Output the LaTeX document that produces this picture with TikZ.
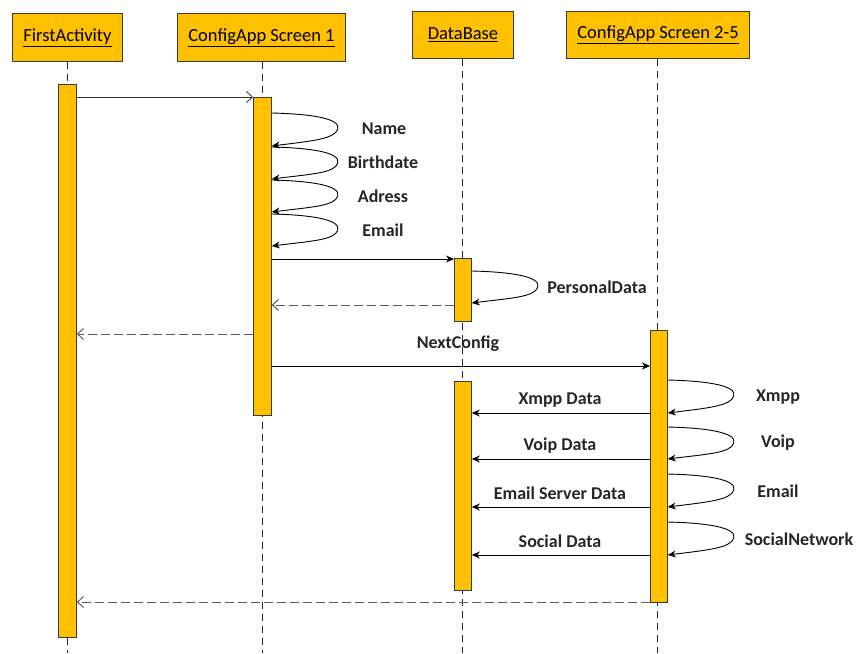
\documentclass[tikz,border=0pt]{standalone}
\usepackage{fontspec}
\setmainfont{Carlito}
\usetikzlibrary{arrows.meta}
\definecolor{actfill}{HTML}{FFC000}
\definecolor{actline}{HTML}{3A3A3A}
\definecolor{retline}{HTML}{5A5A5A}

% self message: from bar #1 at level #2 back to the same bar at level #3
\newcommand\selfcall[3]{%
  \draw[call] (#1.east |- #2) .. controls +(42,1) and +(3,-10) .. ++(66,16)
    .. controls +(-3,10) and +(40,-5) .. (#1.east |- #3);}

\begin{document}
\begin{tikzpicture}[x=1pt,y=-1pt,
  head/.style={draw=actline, fill=actfill, line width=1pt, inner sep=0pt,
    anchor=north west, minimum height=48pt, font=\fontsize{18.5}{20}\selectfont},
  actbar/.style={draw=actline, fill=actfill, line width=0.8pt, inner sep=0pt,
    anchor=north west, minimum width=17pt},
  lifeline/.style={draw=black!85, line width=0.8pt, dash pattern=on 7pt off 5pt},
  call/.style={draw=black, line width=0.9pt, -{Stealth[length=8pt,width=7pt]}},
  reply/.style={draw=retline, line width=1pt, dash pattern=on 9pt off 4pt,
    -{Straight Barb[length=6pt,width=11pt]}},
  enter/.style={draw=black!80, line width=0.8pt, -{Straight Barb[length=6pt,width=11pt]}},
  msg/.style={font=\bfseries\fontsize{18}{20}\selectfont, inner sep=0pt, text=black!85}]

\useasboundingbox (0,0) rectangle (856,653);

% participants
\node[head, minimum width=110pt] (fa) at (12,13) {\underline{FirstActivity}};
\node[head, minimum width=168pt] (cs1) at (177,13) {\underline{ConfigApp Screen 1}};
\node[head, minimum width=101pt, minimum height=47pt] (db) at (412,11) {\underline{DataBase}};
\node[head, minimum width=183pt, minimum height=47pt] (cs2) at (566,11) {\underline{ConfigApp Screen 2-5}};

% lifelines
\draw[lifeline] (fa.south -| 67,0) -- (67,653);
\draw[lifeline] (cs1.south -| 262,0) -- (262,653);
\draw[lifeline] (db.south -| 462,0) -- (462,653);
\draw[lifeline] (cs2.south -| 657,0) -- (657,653);

% activation bars
\node[actbar, minimum width=18pt, minimum height=553pt] (faA) at (58,84) {};
\node[actbar, minimum width=18pt, minimum height=318pt] (cs1A) at (253,97) {};
\node[actbar, minimum height=63pt] (dbA) at (454,258) {};
\node[actbar, minimum height=209pt] (dbB) at (454,381) {};
\node[actbar, minimum height=272pt] (cs2A) at (650,330) {};

% message levels
\coordinate (y1) at (0,97);
\coordinate (yName) at (0,113);   \coordinate (yName2) at (0,146);
\coordinate (yBirth) at (0,147);  \coordinate (yBirth2) at (0,179);
\coordinate (yAdr) at (0,180);    \coordinate (yAdr2) at (0,212);
\coordinate (yMail) at (0,214);   \coordinate (yMail2) at (0,246);
\coordinate (ySave) at (0,259);
\coordinate (yPers) at (0,271);   \coordinate (yPers2) at (0,303);
\coordinate (yBack) at (0,305);
\coordinate (yRet) at (0,334);
\coordinate (yNext) at (0,366);
\coordinate (yX) at (0,380);      \coordinate (yX2) at (0,413);
\coordinate (yV) at (0,427);      \coordinate (yV2) at (0,459);
\coordinate (yE) at (0,474);      \coordinate (yE2) at (0,507);
\coordinate (yS) at (0,522);      \coordinate (yS2) at (0,555);
\coordinate (yEnd) at (0,602);

% start of configuration
\draw[enter] (faA.east |- y1) -- (cs1A.west |- y1);

% personal data input
\selfcall{cs1A}{yName}{yName2}
\selfcall{cs1A}{yBirth}{yBirth2}
\selfcall{cs1A}{yAdr}{yAdr2}
\selfcall{cs1A}{yMail}{yMail2}
\node[msg] (lName) at (384,129) {Name};
\node[msg] (lBirth) at (383,162) {Birthdate};
\node[msg] (lAdr) at (383,196) {Adress};
\node[msg] (lMail) at (383,230) {Email};

% store personal data
\draw[call] (cs1A.east |- ySave) -- (dbA.west |- ySave);
\selfcall{dbA}{yPers}{yPers2}
\node[msg] (lPers) at (597,287) {PersonalData};
\draw[reply] (dbA.west |- yBack) -- (cs1A.east |- yBack);
\draw[reply] (cs1A.west |- yRet) -- (faA.east |- yRet);

% next configuration screens
\draw[call] (cs1A.east |- yNext) -- (cs2A.west |- yNext);
\node[msg] (lNext) at (458,344) {NextConfig};

\selfcall{cs2A}{yX}{yX2}
\selfcall{cs2A}{yV}{yV2}
\selfcall{cs2A}{yE}{yE2}
\selfcall{cs2A}{yS}{yS2}
\node[msg] (lX) at (778,397) {Xmpp};
\node[msg] (lV) at (778,443) {Voip};
\node[msg] (lE) at (778,491) {Email};
\node[msg] (lS) at (799,539) {SocialNetwork};

\draw[call] (cs2A.west |- yX2) -- (dbB.east |- yX2);
\draw[call] (cs2A.west |- yV2) -- (dbB.east |- yV2);
\draw[call] (cs2A.west |- yE2) -- (dbB.east |- yE2);
\draw[call] (cs2A.west |- yS2) -- (dbB.east |- yS2);
\node[msg] (lXd) at (560,400) {Xmpp Data};
\node[msg] (lVd) at (560,446) {Voip Data};
\node[msg] (lEd) at (560,493) {Email Server Data};
\node[msg] (lSd) at (560,541) {Social Data};

% back to the first activity
\draw[reply] (cs2A.west |- yEnd) -- (faA.east |- yEnd);
\end{tikzpicture}
\end{document}
